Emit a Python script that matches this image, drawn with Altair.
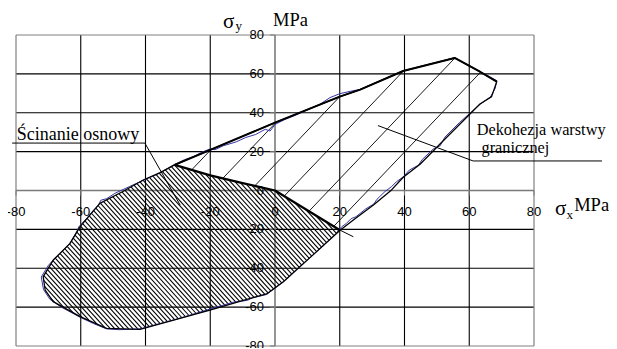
import math
import altair as alt
import pandas as pd

# ---------------- data ----------------
x_ticks = [-80, -60, -40, -20, 0, 20, 40, 60, 80]
y_ticks = [-80, -60, -40, -20, 0, 20, 40, 60, 80]
x_labels = ["-80", "-60", "-40", "-20", "0", "20", "40", "60", "80"]
y_labels = ["-80", "-60", "-40", "-20", "0", "20", "40", "60", "80"]

# envelope (black outline), clockwise from the left vertex
env_x = [-31.0, 0.0, 20.0, 26.3, 39.6, 55.5, 63.3, 68.5, 66.9, 63.3, 51.2, 44.8,
         39.6, 36.0, 30.4, 24.2, 20.1, 11.5, 2.6, -2.6, -8.7, -20.1, -41.7, -52.0,
         -60.2, -68.5, -71.0, -71.6, -68.5, -63.3, -60.2, -54.1, -47.0, -40.7, -35.5]
env_y = [13.2, 34.9, 48.3, 51.9, 61.5, 68.2, 61.1, 56.0, 48.3, 44.5, 24.3, 13.5,
         6.8, 0.3, -7.5, -15.2, -20.4, -33.5, -46.9, -53.2, -56.0, -61.5, -71.4, -70.9,
         -64.9, -57.2, -51.2, -44.3, -35.8, -27.2, -18.6, -6.6, -0.5, 5.4, 9.2]
SPLIT = 16  # index of the lower-right corner (20.1, -20.4)

# dividing line between the two regions
div_x = [-31.0, -20.0, -10.0, 0.0, 20.1]
div_y = [13.2, 7.8, 3.8, 0.0, -20.4]
ext_x = [20.1, 24.2]
ext_y = [-20.4, -23.8]

# measured (blue) curve
blue_x = [-31.5, -28.0, -25.0, -22.5, -20.0, -18.5, -16.0, -12.0, -9.0, -6.0, -3.0, -1.5,
          0.0, 3.0, 6.0, 10.0, 14.0, 17.0, 20.0, 24.0, 26.3, 39.6, 55.5, 63.3, 68.5,
          68.0, 66.5, 63.3, 57.0, 52.5, 51.0, 49.0, 45.5, 44.3, 41.5, 39.6, 37.5, 36.0,
          34.0, 31.5, 30.5, 28.0, 25.0, 23.5, 22.0, 20.5, 18.5, 15.0, 11.5, 7.7, 2.6,
          -2.6, -7.0, -8.5, -13.0, -20.1, -30.0, -41.7, -48.0, -52.0, -56.0, -60.2,
          -66.0, -69.5, -71.5, -72.2, -70.0, -68.5, -65.0, -63.5, -61.5, -60.5, -58.0,
          -56.0, -54.5, -53.8, -52.0, -49.5, -45.0, -40.7, -35.5, -31.5]
blue_y = [13.0, 15.8, 17.6, 19.8, 21.4, 21.0, 23.0, 25.0, 27.3, 28.8, 31.5, 30.6,
          34.0, 36.5, 38.5, 41.5, 44.5, 47.8, 49.8, 51.3, 52.0, 61.5, 68.2, 61.3, 56.5,
          52.5, 48.0, 44.3, 35.0, 27.5, 23.0, 21.5, 16.0, 13.0, 10.5, 7.0, 4.5, 2.0,
          -0.5, -4.5, -7.0, -9.5, -13.5, -14.5, -17.0, -18.8, -22.8, -28.0, -33.5, -39.0,
          -46.9, -53.5, -55.2, -56.5, -57.5, -61.0, -66.0, -71.2, -71.6, -71.2, -68.5,
          -65.2, -60.0, -56.0, -51.0, -44.5, -38.5, -35.8, -30.0, -27.5, -22.0, -18.5,
          -14.0, -10.0, -7.5, -5.0, -4.2, -1.5, 2.0, 5.2, 9.0, 13.0]

# hatch parameters (slope in data units, spacing along x in data units)
upper_slope, upper_step, upper_anchor = 1.749, 12.1, (55.5, 68.2)
lower_slope, lower_step = -1.832, 1.40


# ---------------- helpers ----------------
def hatch(px, py, slope, step, anchor):
    n = len(px)
    c0 = anchor[1] - slope * anchor[0] - 0.15
    cstep = abs(slope) * step
    cs = [py[i] - slope * px[i] for i in range(n)]
    k0 = math.floor((min(cs) - c0) / cstep)
    k1 = math.ceil((max(cs) - c0) / cstep)
    rows = []
    for k in range(k0, k1 + 1):
        c = c0 + k * cstep
        xs = []
        for i in range(n):
            x1, y1 = px[i], py[i]
            x2, y2 = px[(i + 1) % n], py[(i + 1) % n]
            f1 = y1 - slope * x1 - c
            f2 = y2 - slope * x2 - c
            if (f1 > 0) != (f2 > 0):
                t = f1 / (f1 - f2)
                xs.append(x1 + t * (x2 - x1))
        xs.sort()
        for j in range(0, len(xs) - 1, 2):
            rows.append({"x": xs[j], "y": slope * xs[j] + c,
                         "x2": xs[j + 1], "y2": slope * xs[j + 1] + c})
    return pd.DataFrame(rows)


def path(xs, ys):
    return pd.DataFrame({"x": xs, "y": ys, "i": range(len(xs))})


up_x = env_x[:SPLIT + 1] + div_x[::-1][1:-1]
up_y = env_y[:SPLIT + 1] + div_y[::-1][1:-1]
lo_x = div_x + env_x[SPLIT + 1:]
lo_y = div_y + env_y[SPLIT + 1:]

XS = alt.Scale(domain=[-80, 80], nice=False, zero=False)
YS = alt.Scale(domain=[-80, 80], nice=False, zero=False)


def X(f="x"):
    return alt.X(f"{f}:Q", scale=XS, axis=None)


def Y(f="y"):
    return alt.Y(f"{f}:Q", scale=YS, axis=None)


# ---------------- grid, border, axes ----------------
inner = [t for t in x_ticks if t not in (-80, 0, 80)]
inner_y = [t for t in y_ticks if t not in (-80, 0, 80)]
vgrid = pd.DataFrame({"x": inner, "y": -80, "y2": 80})
hgrid = pd.DataFrame({"y": inner_y, "x": -80, "x2": 80})
grid = alt.layer(
    alt.Chart(vgrid).mark_rule(color="#000", strokeWidth=1.1).encode(x=X(), y=Y(), y2="y2:Q"),
    alt.Chart(hgrid).mark_rule(color="#000", strokeWidth=1.1).encode(y=Y(), x=X(), x2="x2:Q"),
)
bx = pd.DataFrame({"x": [-80, 80], "y": -80, "y2": 80})
by = pd.DataFrame({"y": [-80, 80], "x": -80, "x2": 80})
border = alt.layer(
    alt.Chart(bx).mark_rule(color="#808080", strokeWidth=1.2).encode(x=X(), y=Y(), y2="y2:Q"),
    alt.Chart(by).mark_rule(color="#808080", strokeWidth=1.2).encode(y=Y(), x=X(), x2="x2:Q"),
)
axes_df_v = pd.DataFrame({"x": [0], "y": [-80], "y2": [80]})
axes_df_h = pd.DataFrame({"y": [0], "x": [-80], "x2": [80]})
xt = pd.DataFrame({"x": x_ticks, "y": 0, "y2": -2.6})
yt = pd.DataFrame({"y": y_ticks, "x": -1.55, "x2": 0})
axes = alt.layer(
    alt.Chart(axes_df_v).mark_rule(color="#7a7a7a", strokeWidth=1.6).encode(x=X(), y=Y(), y2="y2:Q"),
    alt.Chart(axes_df_h).mark_rule(color="#7a7a7a", strokeWidth=1.6).encode(y=Y(), x=X(), x2="x2:Q"),
    alt.Chart(xt).mark_rule(color="#7a7a7a", strokeWidth=1).encode(x=X(), y=Y(), y2="y2:Q"),
    alt.Chart(yt).mark_rule(color="#7a7a7a", strokeWidth=1).encode(y=Y(), x=X(), x2="x2:Q"),
)

xl = pd.DataFrame({"x": x_ticks, "y": 0, "t": x_labels})
yl = pd.DataFrame({"y": y_ticks, "x": 0, "t": y_labels})
ticklabels = alt.layer(
    alt.Chart(xl).mark_text(font="Liberation Sans", fontSize=13, color="#000",
                            baseline="middle", align="center", dy=21).encode(x=X(), y=Y(), text="t:N"),
    alt.Chart(yl).mark_text(font="Liberation Sans", fontSize=13, color="#000",
                            baseline="middle", align="right", dx=-11).encode(x=X(), y=Y(), text="t:N"),
)

# ---------------- hatching and outlines ----------------
hu = hatch(up_x, up_y, upper_slope, upper_step, upper_anchor)
hl = hatch(lo_x, lo_y, lower_slope, lower_step, (0.0, 0.0))
hatches = alt.layer(
    alt.Chart(hu).mark_rule(color="#000", strokeWidth=0.9).encode(x=X(), y=Y(), x2="x2:Q", y2="y2:Q"),
    alt.Chart(hl).mark_rule(color="#000", strokeWidth=1.1).encode(x=X(), y=Y(), x2="x2:Q", y2="y2:Q"),
)

env_closed_x = env_x + [env_x[0]]
env_closed_y = env_y + [env_y[0]]
top_x = env_x[:8]
top_y = env_y[:8]


def line(df, color, w):
    return alt.Chart(df).mark_line(color=color, strokeWidth=w, strokeJoin="round").encode(
        x=X(), y=Y(), order="i:Q")


outlines = alt.layer(
    line(path(blue_x, blue_y), "#3434a8", 1.0),
    line(path(env_closed_x, env_closed_y), "#000", 1.3),
    line(path(top_x, top_y), "#000", 2.0),
    line(path(div_x, div_y), "#000", 2.3),
    line(path(ext_x, ext_y), "#000", 1.0),
)

# ---------------- annotations ----------------
lead = alt.layer(
    line(path([-81.2, -40.2, -29.3], [24.4, 24.4, -7.5]), "#000", 1.0),
    line(path([101.0, 61.2, 31.8], [15.2, 15.2, 33.4]), "#000", 1.0),
)


def txt(s, x, y, size, font="Liberation Serif"):
    return alt.Chart(pd.DataFrame({"x": [x], "y": [y], "t": [s]})).mark_text(
        font=font, fontSize=size, align="left", baseline="alphabetic", color="#000"
    ).encode(x=X(), y=Y(), text="t:N")


notes = alt.layer(
    txt("Ścinanie osnowy", -79.8, 26.0, 18),
    txt("Dekohezja warstwy", 62.3, 28.5, 16.3),
    txt("granicznej", 63.8, 19.3, 16.3),
    txt("σ", -16.1, 83.6, 21),
    txt("y", -12.2, 82.6, 13),
    txt("MPa", -0.6, 84.4, 18.5),
    txt("σ", 86.5, -12.6, 21),
    txt("x", 90.0, -14.9, 13),
    txt("MPa", 92.4, -10.5, 18.5),
)

chart = alt.layer(grid, border, axes, ticklabels, hatches, outlines, lead, notes).properties(
    width=518, height=311,
    autosize=alt.AutoSizeParams(type="none"),
    padding={"left": 8, "top": 27, "right": 75, "bottom": 2},
).configure_view(stroke=None)

chart.save("out.html", embed_options={"renderer": "svg", "actions": False})
